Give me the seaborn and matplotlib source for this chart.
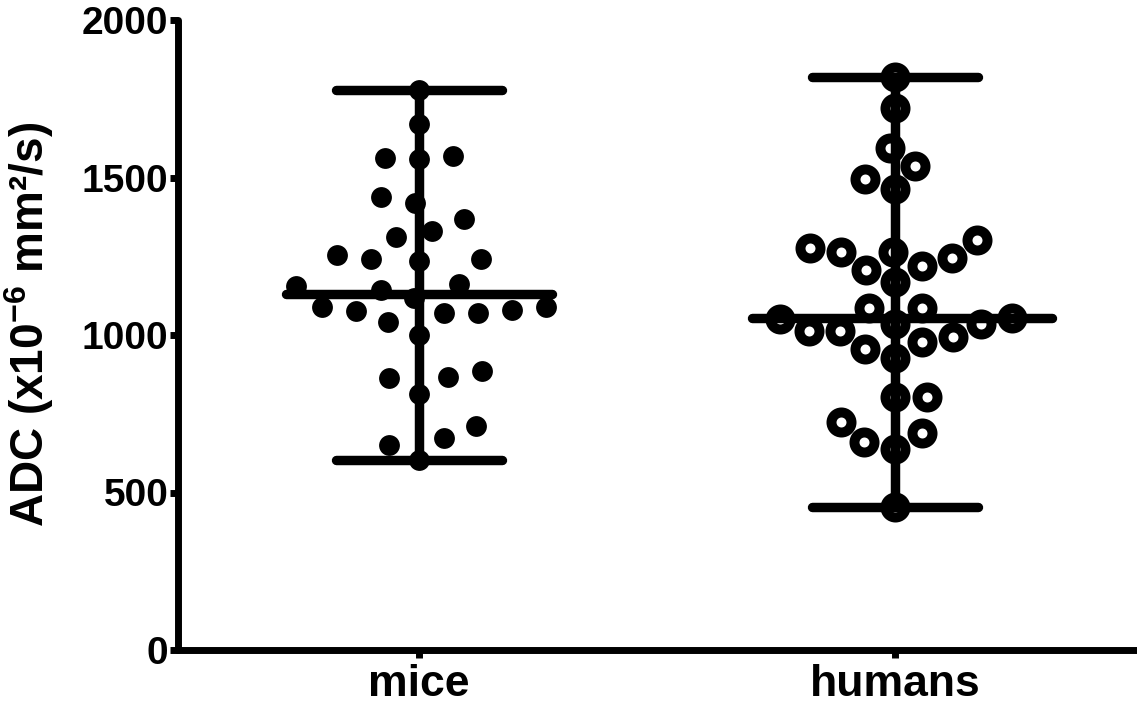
import numpy as np
import pandas as pd
import seaborn as sns
import matplotlib
matplotlib.use("Agg")
import matplotlib.pyplot as plt

# ---- data ----
categories = ["mice", "humans"]
mice_adc = [1778, 1670, 1568, 1562, 1559, 1438, 1419, 1368, 1330, 1311,
            1254, 1241, 1241, 1235, 1162, 1156, 1143, 1117, 1089, 1089,
            1079, 1076, 1070, 1070, 1041, 1000, 886, 867, 863, 813,
            711, 673, 651, 603]
humans_adc = [1819, 1720, 1594, 1537, 1495, 1463, 1302, 1276, 1263, 1263,
              1244, 1219, 1206, 1168, 1086, 1086, 1055, 1052, 1035, 1035,
              1013, 1013, 994, 978, 955, 927, 803, 803, 724, 689,
              660, 638, 454]
y_ticks = [0, 500, 1000, 1500, 2000]
y_label = "ADC (x10$^{\\mathbf{-6}}$ mm²/s)"

sns.set_theme(style="ticks")
plt.rcParams["font.family"] = ["Liberation Sans", "DejaVu Sans"]
plt.rcParams["font.weight"] = "bold"
plt.rcParams["mathtext.fontset"] = "custom"
plt.rcParams["mathtext.bf"] = "Liberation Sans:bold"
plt.rcParams["mathtext.rm"] = "Liberation Sans:bold"
for k in ["text.color", "axes.labelcolor", "xtick.color", "ytick.color", "axes.edgecolor"]:
    plt.rcParams[k] = "black"

df = pd.DataFrame({
    "group": ["mice"] * len(mice_adc) + ["humans"] * len(humans_adc),
    "adc": mice_adc + humans_adc,
})

fig = plt.figure(figsize=(11.37, 7.06), dpi=100)
ax = fig.add_axes([178 / 1137, 56 / 706, (1137 - 178) / 1137, 630 / 706])

sns.swarmplot(data=df[df.group == "mice"], x="group", y="adc", order=categories,
              color="black", edgecolor="white", size=19.2, linewidth=4.2,
              ax=ax, zorder=2)
sns.swarmplot(data=df[df.group == "humans"], x="group", y="adc", order=categories,
              color="white", edgecolor="black", size=14.4, linewidth=7.2,
              ax=ax, zorder=2)

# median with range
half_med = [(0.28, 0.28), (0.30, 0.33)]
for i, vals in enumerate([mice_adc, humans_adc]):
    v = np.asarray(vals)
    med, lo, hi = np.median(v), v.min(), v.max()
    kw = dict(color="black", lw=6.8, solid_capstyle="round", zorder=4, clip_on=False)
    ax.plot([i, i], [lo, hi], **kw)
    ax.plot([i - 0.174, i + 0.174], [lo, lo], **kw)
    ax.plot([i - 0.174, i + 0.174], [hi, hi], **kw)
    ax.plot([i - half_med[i][0], i + half_med[i][1]], [med, med], **kw)

ax.set_xlim(-0.506, 1.508)
ax.set_ylim(0, 2000)
ax.set_yticks(y_ticks)
ax.set_xlabel("")
ax.set_ylabel(y_label, fontsize=33, fontweight="bold", color="black")
ax.yaxis.set_label_coords(-0.127, 0.517)

for s in ["top", "right"]:
    ax.spines[s].set_visible(False)
for s in ["left", "bottom"]:
    ax.spines[s].set_linewidth(5)
    ax.spines[s].set_color("black")
    ax.spines[s].set_capstyle("round")
ax.tick_params(axis="both", width=5, length=6, direction="out", color="black",
               labelcolor="black")
ax.tick_params(axis="y", labelsize=28, pad=1)
ax.tick_params(axis="x", labelsize=32, pad=4)
for lab in ax.get_xticklabels() + ax.get_yticklabels():
    lab.set_fontweight("bold")

fig.savefig("out.png", dpi=100, facecolor="white")
